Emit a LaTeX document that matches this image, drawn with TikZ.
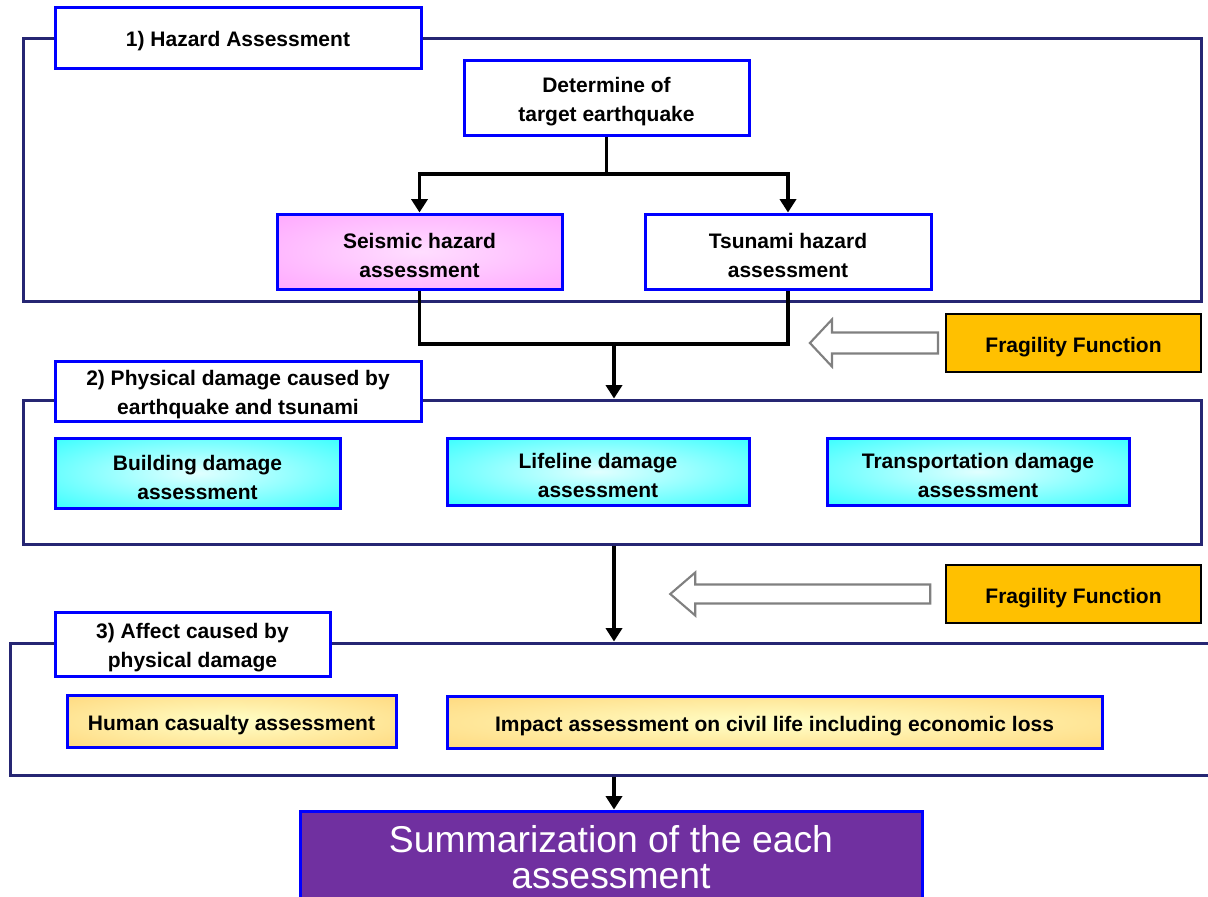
\documentclass[tikz,border=0pt]{standalone}
\usepackage{fontspec}
\setmainfont{Liberation Sans}
\usetikzlibrary{arrows.meta}
\definecolor{navy}{RGB}{38,38,115}
\definecolor{boxblue}{RGB}{0,0,255}
\definecolor{fragfill}{RGB}{255,192,0}
\definecolor{sumfill}{RGB}{112,48,160}
\definecolor{hollowgray}{RGB}{128,128,128}
\definecolor{pinkin}{RGB}{255,222,255}
\definecolor{pinkout}{RGB}{255,150,255}
\definecolor{cyanin}{RGB}{225,255,255}
\definecolor{cyanout}{RGB}{0,255,255}
\definecolor{yelin}{RGB}{255,255,200}
\definecolor{yelout}{RGB}{255,204,102}
\pgfdeclareradialshading{pinkrad}{\pgfpointorigin}{color(0bp)=(pinkin); color(48bp)=(pinkout); color(100bp)=(pinkout)}
\pgfdeclareradialshading{cyanrad}{\pgfpointorigin}{color(0bp)=(cyanin); color(48bp)=(cyanout); color(100bp)=(cyanout)}
\pgfdeclareradialshading{yelrad}{\pgfpointorigin}{color(0bp)=(yelin); color(48bp)=(yelout); color(100bp)=(yelout)}
\newcommand{\fstrut}{\rule{0pt}{17.5pt}}
\begin{document}
\begin{tikzpicture}[x=0.75pt,y=-0.75pt,
  sz/.style 2 args={minimum width=#1*0.75pt, minimum height=#2*0.75pt},
  box/.style={draw=boxblue, line width=2.25pt, fill=white, inner sep=0pt, align=center,
    font=\bfseries\fontsize{15.75}{21.75}\selectfont},
  framebox/.style={draw=navy, line width=2.25pt, inner sep=0pt},
  fragbox/.style={draw=black, line width=1.6pt, fill=fragfill, inner sep=0pt, align=center,
    font=\bfseries\fontsize{15.75}{21.75}\selectfont},
  pinkbox/.style={box, shade, shading=pinkrad},
  cyanbox/.style={box, shade, shading=cyanrad},
  yelbox/.style={box, shade, shading=yelrad},
  conn/.style={line width=2.6pt, line join=miter},
  arr/.style={conn, -{Triangle[width=12pt,length=10pt]}},
  hollow/.style={draw=hollowgray, line width=1.6pt, fill=white, line join=miter}
]
\useasboundingbox (0,0) rectangle (1208,897);

% section frames
\node[framebox, sz={1178}{263}] (f1) at (612,169.5) {};
\node[framebox, sz={1178}{144}] (f2) at (612,472) {};
\node[framebox, sz={1214}{132}] (f3) at (617,709) {};

% section 1
\node[box, sz={366}{61}] (t1) at (238,37.5) {\fstrut 1) Hazard Assessment};
\node[box, sz={285}{75}] (det) at (606.5,97.5) {\fstrut Determine of\\target earthquake};
\node[pinkbox, sz={285}{75}] (seis) at (419.5,251.5) {\fstrut Seismic hazard\\assessment};
\node[box, sz={286}{75}] (tsu) at (788,251.5) {\fstrut Tsunami hazard\\assessment};

% section 2
\node[box, sz={366}{60}] (t2) at (238,391) {\fstrut 2) Physical damage caused by\\earthquake and tsunami};
\node[cyanbox, sz={285}{70}] (bld) at (197.5,473) {\fstrut Building damage\\assessment};
\node[cyanbox, sz={302}{67}] (life) at (598,471.5) {\fstrut Lifeline damage\\assessment};
\node[cyanbox, sz={302}{67}] (trans) at (978,471.5) {\fstrut Transportation damage\\assessment};

% section 3
\node[box, sz={275}{64}] (t3) at (192.5,644) {\fstrut 3) Affect caused by\\physical damage};
\node[yelbox, sz={329}{52}] (hum) at (231.5,721) {\fstrut Human casualty assessment};
\node[yelbox, sz={655}{52}] (imp) at (774.5,722) {\fstrut Impact assessment on civil life including economic loss};

% fragility
\node[fragbox, sz={255}{58}] (frag1) at (1073.5,343) {\fstrut Fragility Function};
\node[fragbox, sz={255}{58}] (frag2) at (1073.5,594) {\fstrut Fragility Function};

% summary
\node[draw=boxblue, line width=2.25pt, fill=sumfill, inner sep=0pt, align=center, text=white,
  font=\fontsize{28}{26.5}\selectfont, sz={622}{92}] (sum) at (611,857) {Summarization of the each\\assessment};

% connectors
\coordinate (j1) at (606.5,174);
\draw[conn] (det.south) -- (j1);
\draw[arr] (j1) -| (seis.north);
\draw[arr] (j1) -| (tsu.north);
\coordinate (j2) at (614,344);
\draw[conn] (seis.south) |- (j2) -| (tsu.south);
\draw[arr] (j2) -- (j2 |- f2.north);
\draw[arr] (f2.south -| j2) -- (f3.north -| j2);
\draw[arr] (f3.south -| j2) -- (sum.north -| j2);

% hollow arrows
\draw[hollow] ([xshift=-5.25pt]frag1.west) ++(0,-10.5) -- ++(-106,0) -- ++(0,-13) -- ++(-22,23.5)
  -- ++(22,23.5) -- ++(0,-13) -- ++(106,0) -- cycle;
\draw[hollow] ([xshift=-11pt]frag2.west) ++(0,-9.5) -- ++(-235,0) -- ++(0,-12) -- ++(-25,21.5)
  -- ++(25,21.5) -- ++(0,-12) -- ++(235,0) -- cycle;
\end{tikzpicture}
\end{document}
